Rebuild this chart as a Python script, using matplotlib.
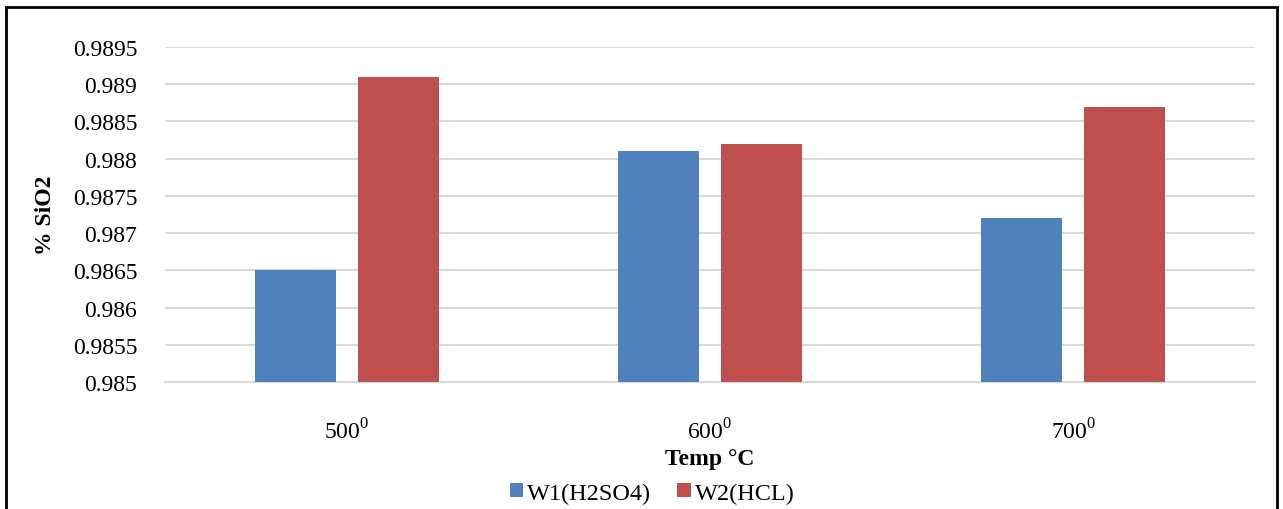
import matplotlib
matplotlib.use("Agg")
import matplotlib.pyplot as plt
import numpy as np

temps = ["500", "600", "700"]
w1_h2so4 = [0.9865, 0.9881, 0.9872]
w2_hcl = [0.9891, 0.9882, 0.9887]
yticks = [0.985, 0.9855, 0.986, 0.9865, 0.987, 0.9875, 0.988, 0.9885, 0.989, 0.9895]
ytick_labels = ["0.985", "0.9855", "0.986", "0.9865", "0.987", "0.9875", "0.988", "0.9885", "0.989", "0.9895"]

plt.rcParams['font.family'] = ['Liberation Serif', 'DejaVu Serif']

fig = plt.figure(figsize=(12.83, 5.10), dpi=100)
ax = fig.add_axes([165 / 1283, 1 - 383 / 510, 1090 / 1283, 335 / 510])

x = np.arange(len(temps))
w = 0.223
off = 0.142
ax.bar(x - off, w1_h2so4, w, color='#4f81bd', label='W1(H2SO4)', zorder=3)
ax.bar(x + off, w2_hcl, w, color='#c0504d', label='W2(HCL)', zorder=3)

ax.set_xlim(-0.5, 2.5)
ax.set_ylim(0.985, 0.9895)
ax.set_yticks(yticks)
ax.set_yticklabels(ytick_labels)
ax.set_xticks(x)
ax.set_xticklabels([t + r"$^\mathregular{0}$" for t in temps])
ax.tick_params(axis='both', length=0, labelsize=17)
ax.tick_params(axis='y', pad=20)
ax.tick_params(axis='x', pad=26)
ax.grid(axis='y', color='#d9d9d9', linewidth=1.5, zorder=0)
for s in ['top', 'right', 'left']:
    ax.spines[s].set_visible(False)
ax.spines['bottom'].set_color('#d9d9d9')
ax.spines['bottom'].set_linewidth(1.5)

ax.set_ylabel('% SiO2', fontsize=17, fontweight='bold', labelpad=12)
ax.set_xlabel('Temp °C', fontsize=17, fontweight='bold', labelpad=3)

fig.legend(loc='center', bbox_to_anchor=(652 / 1283, 1 - 494 / 510), ncol=2, frameon=False,
           fontsize=17.5, handlelength=0.55, handleheight=0.55, handletextpad=0.15, columnspacing=1.1)

# outer frame
fig.patches.append(plt.Rectangle((6 / 1283, -0.05), 1271 / 1283, 1.05 - 8 / 510, transform=fig.transFigure,
                                 fill=False, edgecolor='black', linewidth=2))

fig.savefig('out.png', dpi=100)
